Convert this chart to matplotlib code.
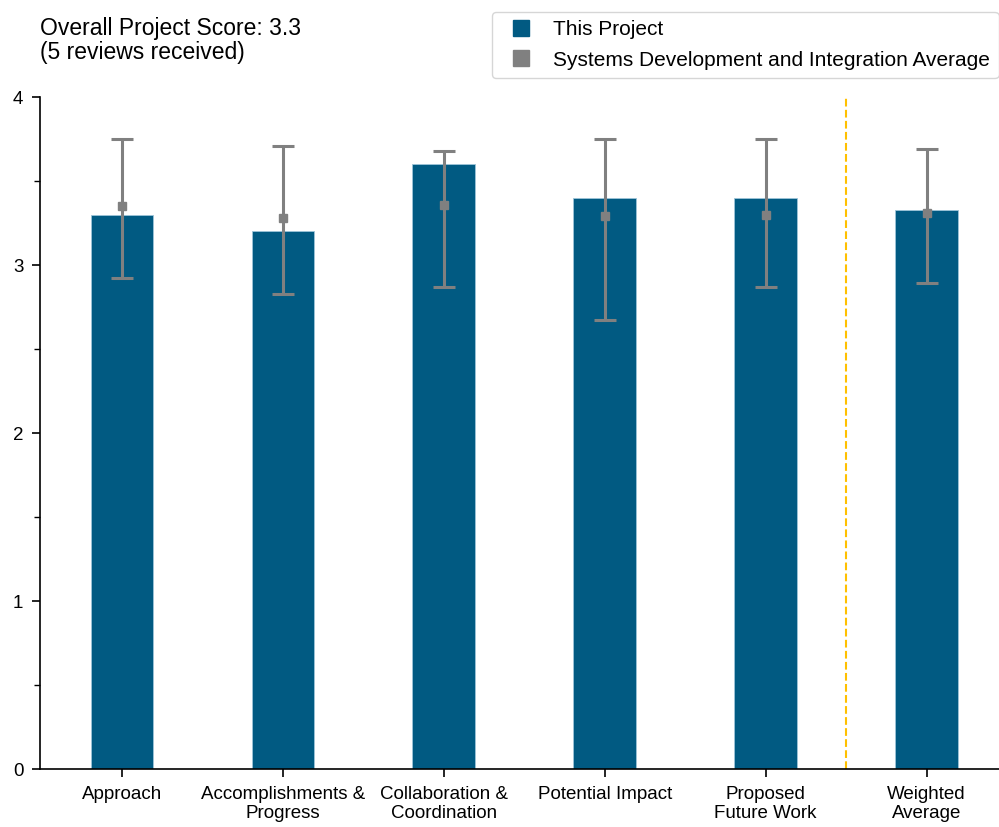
import matplotlib.pyplot as plt
import numpy as np
from matplotlib.lines import Line2D
from matplotlib.ticker import MultipleLocator

plt.rcParams['font.family'] = ['Liberation Sans', 'DejaVu Sans']

categories = ['Approach', 'Accomplishments &\nProgress', 'Collaboration &\nCoordination',
              'Potential Impact', 'Proposed\nFuture Work', 'Weighted\nAverage']
project_scores = [3.3, 3.2, 3.6, 3.4, 3.4, 3.33]
program_means = [3.35, 3.28, 3.36, 3.29, 3.30, 3.31]
program_upper = [3.75, 3.71, 3.68, 3.75, 3.75, 3.69]
program_lower = [2.92, 2.83, 2.87, 2.67, 2.87, 2.89]

bar_color = '#015a82'
avg_color = '#808080'

fig = plt.figure(figsize=(9.99, 8.27), dpi=100)
ax = fig.add_axes([0.040, 0.0701, 0.960, 0.8126])

x = np.arange(len(categories))
ax.bar(x, project_scores, width=0.39, color=bar_color, edgecolor='#9ec5d8', linewidth=0.6, zorder=2)

means = np.array(program_means)
yerr = [means - np.array(program_lower), np.array(program_upper) - means]
ax.errorbar(x, means, yerr=yerr, fmt='s', color=avg_color, ecolor=avg_color,
            markersize=5.5, elinewidth=2.2, capsize=8, capthick=2.2, zorder=3)

# separator before the weighted average
ax.axvline(4.5, color='#ffc000', linestyle='--', linewidth=1.5, zorder=1)

ax.set_xlim(-0.51, 5.45)
ax.set_ylim(0, 4)
ax.set_xticks(x)
ax.set_xticklabels(categories, fontsize=13.5, linespacing=1.15)
ax.set_yticks([0, 1, 2, 3, 4])
ax.tick_params(axis='y', labelsize=13.5, length=6, width=1.2, pad=6)
ax.tick_params(axis='x', length=6, width=1.2, pad=6)
ax.yaxis.set_minor_locator(MultipleLocator(0.5))
ax.tick_params(axis='y', which='minor', length=4, width=1)
for s in ['top', 'right']:
    ax.spines[s].set_visible(False)
for s in ['left', 'bottom']:
    ax.spines[s].set_linewidth(1.2)

fig.text(0.040, 0.979, 'Overall Project Score: 3.3\n(5 reviews received)', fontsize=16.5,
         va='top', ha='left', linespacing=1.05)

handles = [Line2D([], [], marker='s', linestyle='', color=bar_color, markersize=12),
           Line2D([], [], marker='s', linestyle='', color=avg_color, markersize=12)]
fig.legend(handles, ['This Project', 'Systems Development and Integration Average'],
           loc='upper right', bbox_to_anchor=(0.9995, 0.9855), borderaxespad=0, fontsize=15,
           frameon=True, fancybox=True, handletextpad=0.55, borderpad=0.4, labelspacing=0.55)

fig.savefig('out.png', dpi=100)
plt.close(fig)
